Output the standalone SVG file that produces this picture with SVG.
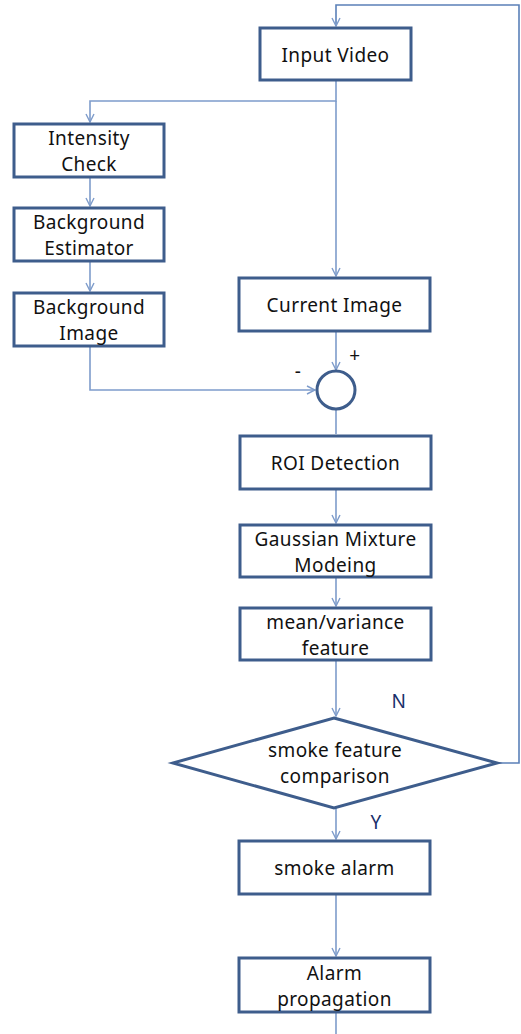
<svg xmlns="http://www.w3.org/2000/svg" width="521" height="1034" viewBox="0 0 521 1034">
  <style>
    .box { fill: #ffffff; stroke: #3e5d8c; stroke-width: 3; }
    .lbl { font-family: "Noto Sans", "Open Sans", sans-serif; font-size: 19px; letter-spacing: 0.4px; fill: #111111; text-anchor: middle; }
    .conn { fill: none; stroke: #7e9ccb; stroke-width: 1.6; }
    .loop { fill: none; stroke: #5b80b8; stroke-width: 1.6; }
    .yn { fill: #1a2f6b; }
  </style>
  <defs>
    <marker id="arrow" viewBox="0 0 10 10" refX="9" refY="5" markerWidth="10" markerHeight="10" markerUnits="userSpaceOnUse" orient="auto">
      <path d="M1,1 L9,5 L1,9" fill="none" stroke="#7e9ccb" stroke-width="1.4"/>
    </marker>
  </defs>

  <rect width="521" height="1034" fill="#ffffff"/>

  <!-- connectors -->
  <g id="connectors">
    <path class="loop" d="M497,763 H519 V5 H336 V26" marker-end="url(#arrow)"/>
    <path class="conn" d="M336,80 V101 H90 V122" marker-end="url(#arrow)"/>
    <path class="conn" d="M336,101 V276" marker-end="url(#arrow)"/>
    <path class="conn" d="M90,177 V206" marker-end="url(#arrow)"/>
    <path class="conn" d="M90,261 V291" marker-end="url(#arrow)"/>
    <path class="conn" d="M90,346 V390 H315" marker-end="url(#arrow)"/>
    <path class="conn" d="M336,331 V370" marker-end="url(#arrow)"/>
    <path class="conn" d="M336,410 V434"/>
    <path class="conn" d="M336,489 V523" marker-end="url(#arrow)"/>
    <path class="conn" d="M336,577 V606" marker-end="url(#arrow)"/>
    <path class="conn" d="M336,660 V716" marker-end="url(#arrow)"/>
    <path class="conn" d="M336,808 V839" marker-end="url(#arrow)"/>
    <path class="conn" d="M336,894 V956" marker-end="url(#arrow)"/>
    <path class="conn" d="M336,1012 V1034"/>
  </g>

  <g id="input-video">
    <rect class="box" x="260" y="28" width="151" height="52"/>
    <text class="lbl" x="335.5" y="62">Input Video</text>
  </g>

  <g id="intensity-check">
    <rect class="box" x="14" y="124" width="150" height="53"/>
    <text class="lbl" x="89" y="145">Intensity</text>
    <text class="lbl" x="89" y="171">Check</text>
  </g>

  <g id="background-estimator">
    <rect class="box" x="14" y="208" width="150" height="53"/>
    <text class="lbl" x="89" y="229">Background</text>
    <text class="lbl" x="89" y="255">Estimator</text>
  </g>

  <g id="background-image">
    <rect class="box" x="14" y="293" width="150" height="53"/>
    <text class="lbl" x="89" y="314">Background</text>
    <text class="lbl" x="89" y="340">Image</text>
  </g>

  <g id="current-image">
    <rect class="box" x="239" y="278" width="191" height="53"/>
    <text class="lbl" x="334.5" y="312">Current Image</text>
  </g>

  <g id="subtractor">
    <circle cx="336" cy="390" r="19" fill="#ffffff" stroke="#3e5d8c" stroke-width="3"/>
    <text class="lbl" x="355" y="362">+</text>
    <text class="lbl" x="298" y="378">-</text>
  </g>

  <g id="roi-detection">
    <rect class="box" x="240" y="436" width="191" height="53"/>
    <text class="lbl" x="335.5" y="470">ROI Detection</text>
  </g>

  <g id="gaussian-mixture">
    <rect class="box" x="240" y="525" width="191" height="52"/>
    <text class="lbl" x="335.5" y="546">Gaussian Mixture</text>
    <text class="lbl" x="335.5" y="572">Modeing</text>
  </g>

  <g id="mean-variance">
    <rect class="box" x="240" y="608" width="191" height="52"/>
    <text class="lbl" x="335.5" y="629">mean/variance</text>
    <text class="lbl" x="335.5" y="655">feature</text>
  </g>

  <g id="smoke-comparison">
    <polygon points="334,718 497,763 334,808 173,763" fill="#ffffff" stroke="#3e5d8c" stroke-width="3"/>
    <text class="lbl" x="335" y="757">smoke feature</text>
    <text class="lbl" x="335" y="783">comparison</text>
    <text class="lbl yn" x="399" y="708">N</text>
    <text class="lbl yn" x="376" y="829">Y</text>
  </g>

  <g id="smoke-alarm">
    <rect class="box" x="239" y="841" width="191" height="53"/>
    <text class="lbl" x="334.5" y="875">smoke alarm</text>
  </g>

  <g id="alarm-propagation">
    <rect class="box" x="239" y="958" width="191" height="54"/>
    <text class="lbl" x="334.5" y="980">Alarm</text>
    <text class="lbl" x="334.5" y="1006">propagation</text>
  </g>
</svg>
